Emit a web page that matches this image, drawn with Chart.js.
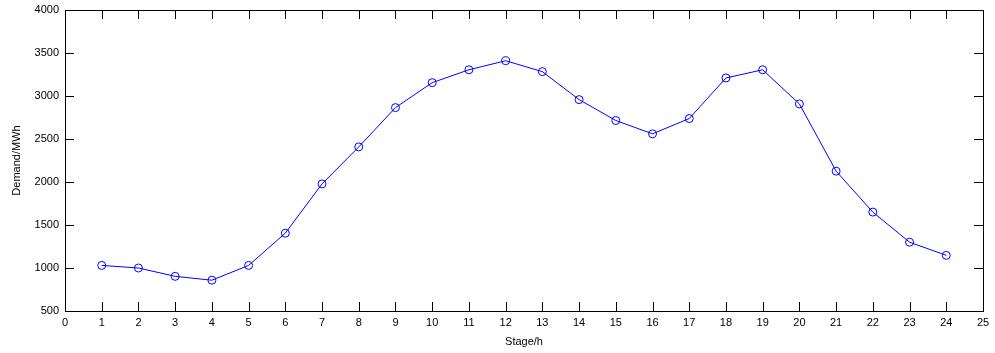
<!DOCTYPE html>
<html>
<head>
    <meta charset='utf-8'>
    <title>Demand by stage</title>
    <script src="https://cdn.jsdelivr.net/npm/chart.js@4.4.1/dist/chart.umd.min.js"></script>
    <style>
        html, body { margin: 0; padding: 0; background: #fff; }
        #wrap { width: 995px; height: 353px; }
    </style>
</head>
<body>
    <div id="wrap"><canvas id="myChart" width="995" height="353"></canvas></div>
    <script>
        // stage (hour) and demand
        const stages = [1, 2, 3, 4, 5, 6, 7, 8, 9, 10, 11, 12, 13, 14, 15, 16, 17, 18, 19, 20, 21, 22, 23, 24];
        const demand = [1030, 1000, 903, 858, 1030, 1405, 1978, 2408, 2865, 3155, 3305, 3410, 3283, 2958, 2715, 2560, 2738, 3210, 3305, 2908, 2126, 1650, 1300, 1147];
        const xTicks = { min: 0, max: 25, step: 1 };
        const yTicks = { min: 500, max: 4000, step: 500 };

        const FONT = { family: 'Liberation Sans, Arial, sans-serif', size: 11 };

        // matlab style box with inward ticks on all four sides
        const boxTicks = {
            id: 'boxTicks',
            afterDraw(chart) {
                const ctx = chart.ctx;
                const a = chart.chartArea;
                const xs = chart.scales.x, ys = chart.scales.y;
                const len = 9;
                ctx.save();
                ctx.strokeStyle = '#000';
                ctx.lineWidth = 1;
                ctx.strokeRect(Math.round(a.left) + 0.5, Math.round(a.top) + 0.5,
                    Math.round(a.right - a.left), Math.round(a.bottom - a.top));
                ctx.beginPath();
                xs.ticks.forEach(t => {
                    const px = Math.round(xs.getPixelForValue(t.value)) + 0.5;
                    ctx.moveTo(px, a.bottom); ctx.lineTo(px, a.bottom - len);
                    ctx.moveTo(px, a.top); ctx.lineTo(px, a.top + len);
                });
                ys.ticks.forEach(t => {
                    const py = Math.round(ys.getPixelForValue(t.value)) + 0.5;
                    ctx.moveTo(a.left, py); ctx.lineTo(a.left + len, py);
                    ctx.moveTo(a.right, py); ctx.lineTo(a.right - len, py);
                });
                ctx.stroke();
                ctx.restore();
            }
        };

        const ctx = document.getElementById('myChart').getContext('2d');
        const myChart = new Chart(ctx, {
            type: 'line',
            data: {
                datasets: [{
                    data: stages.map((s, i) => ({ x: s, y: demand[i] })),
                    borderColor: '#0000ff',
                    borderWidth: 1,
                    pointRadius: 4,
                    pointBorderWidth: 1,
                    pointBorderColor: '#0000ff',
                    pointBackgroundColor: 'rgba(0,0,0,0)',
                    tension: 0
                }]
            },
            options: {
                responsive: false,
                animation: false,
                layout: { padding: { left: 0, top: 10, right: 12, bottom: 0 } },
                plugins: { legend: { display: false }, tooltip: { enabled: false } },
                scales: {
                    x: {
                        type: 'linear',
                        min: xTicks.min, max: xTicks.max,
                        ticks: { stepSize: xTicks.step, color: '#000', font: FONT, padding: 5, maxRotation: 0, autoSkip: false },
                        grid: { display: false, drawTicks: false },
                        border: { display: false },
                        title: { display: true, text: 'Stage/h', color: '#000', font: FONT, padding: { top: 0, bottom: 4 } },
                        afterFit(s) { s.height = 42; s.paddingLeft = 0; s.paddingRight = 0; }
                    },
                    y: {
                        min: yTicks.min, max: yTicks.max,
                        ticks: { stepSize: yTicks.step, color: '#000', font: FONT, padding: 6, callback: v => String(v) },
                        grid: { display: false, drawTicks: false },
                        border: { display: false },
                        title: { display: true, text: 'Demand/MWh', color: '#000', font: FONT, padding: { top: 10, bottom: 0 } },
                        afterFit(s) { s.width = 65; s.paddingTop = 0; s.paddingBottom = 0; }
                    }
                }
            },
            plugins: [boxTicks]
        });
    </script>
</body>
</html>
